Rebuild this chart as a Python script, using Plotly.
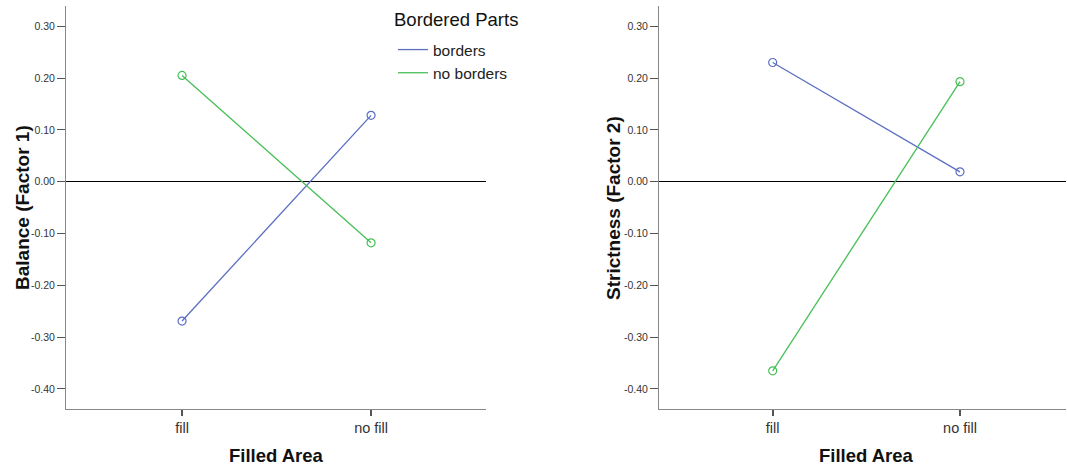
import plotly.graph_objects as go

# Estimated marginal means by filled area and bordered parts
categories = ["fill", "no fill"]
series_names = ["borders", "no borders"]
balance_borders = [-0.269, 0.128]
balance_no_borders = [0.205, -0.118]
strictness_borders = [0.230, 0.019]
strictness_no_borders = [-0.365, 0.193]
y_tick_values = [0.30, 0.20, 0.10, 0.00, -0.10, -0.20, -0.30, -0.40]

colors = {"borders": "#5b6fc3", "no borders": "#47bf57"}
W, H = 1067, 468
FONT = "Liberation Sans, Arial, sans-serif"

fig = go.Figure()

panels = [
    ("x", "y", {"borders": balance_borders, "no borders": balance_no_borders}, True),
    ("x2", "y2", {"borders": strictness_borders, "no borders": strictness_no_borders}, False),
]
for xa, ya, data, show_leg in panels:
    for name in series_names:
        fig.add_trace(go.Scatter(
            x=[0, 1], y=data[name], mode="lines", name=name,
            line=dict(color=colors[name], width=1.3),
            xaxis=xa, yaxis=ya, showlegend=show_leg, hoverinfo="skip"))
        fig.add_trace(go.Scatter(
            x=[0, 1], y=data[name], mode="markers", name=name,
            marker=dict(symbol="circle-open", size=8, color=colors[name],
                        line=dict(width=1.2, color=colors[name])),
            xaxis=xa, yaxis=ya, showlegend=False))

tick_text = [f"{v:.2f}" for v in y_tick_values]

def yaxis_cfg(domain_anchor):
    return dict(
        range=[-0.4387, 0.339], tickvals=y_tick_values, ticktext=tick_text,
        ticks="outside", ticklen=8, tickcolor="#555", tickwidth=1,
        showline=True, linecolor="#888", linewidth=1,
        showgrid=False, zeroline=True, zerolinecolor="#000", zerolinewidth=1,
        tickfont=dict(family=FONT, size=10.5, color="#333"),
        domain=[1 - 409 / H, 1 - 6 / H], anchor=domain_anchor, automargin=False)

def xaxis_cfg(x0, x1, rng, anchor):
    return dict(
        domain=[x0 / W, x1 / W], range=rng, tickvals=[0, 1], ticktext=categories,
        ticks="outside", ticklen=6, tickcolor="#555", tickwidth=1.5,
        showline=True, linecolor="#888", linewidth=1, showgrid=False, zeroline=False,
        tickfont=dict(family=FONT, size=14.5, color="#333"), anchor=anchor, automargin=False)

fig.update_layout(
    width=W, height=H, margin=dict(l=0, r=0, t=0, b=0),
    paper_bgcolor="white", plot_bgcolor="white",
    xaxis=xaxis_cfg(66, 486, [-0.614, 1.608], "y"),
    yaxis=yaxis_cfg("x"),
    xaxis2=xaxis_cfg(659, 1066, [-0.607, 1.566], "y2"),
    yaxis2=yaxis_cfg("x2"),
    legend=dict(x=393 / W, y=1 - 33 / H, xanchor="left", yanchor="top",
                font=dict(family=FONT, size=15.5, color="#222"),
                bgcolor="rgba(0,0,0,0)", tracegroupgap=0, itemwidth=30),
    showlegend=True,
)

annotations = [
    dict(text="Bordered Parts", x=392 / W, y=1 - 20 / H, xanchor="left", yanchor="middle",
         font=dict(family=FONT, size=18.5, color="#111")),
    dict(text="<b>Filled Area</b>", x=276 / W, y=1 - 455 / H, xanchor="center", yanchor="middle",
         font=dict(family=FONT, size=18.5, color="#111")),
    dict(text="<b>Filled Area</b>", x=866 / W, y=1 - 455 / H, xanchor="center", yanchor="middle",
         font=dict(family=FONT, size=18.5, color="#111")),
    dict(text="<b>Balance (Factor 1)</b>", x=22 / W, y=1 - 208 / H, xanchor="center", yanchor="middle",
         textangle=-90, font=dict(family=FONT, size=19, color="#111")),
    dict(text="<b>Strictness (Factor 2)</b>", x=613 / W, y=1 - 208 / H, xanchor="center", yanchor="middle",
         textangle=-90, font=dict(family=FONT, size=19, color="#111")),
]
for a in annotations:
    a.update(xref="paper", yref="paper", showarrow=False)
fig.update_layout(annotations=annotations)

fig.write_html("out.html")
